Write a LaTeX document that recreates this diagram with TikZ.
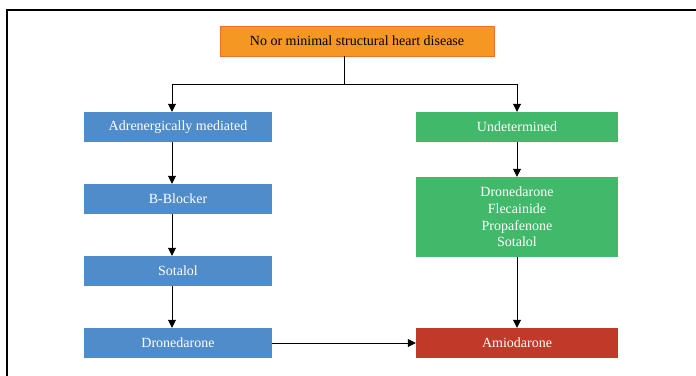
\documentclass[tikz,border=0pt]{standalone}
\usepackage{fontspec}
\setmainfont{Liberation Serif}
\usepackage{tikz}
\usetikzlibrary{arrows.meta, positioning}

\definecolor{boxorange}{RGB}{245,152,35}
\definecolor{lineorange}{RGB}{240,110,40}
\definecolor{boxblue}{RGB}{80,140,202}
\definecolor{boxgreen}{RGB}{66,184,106}
\definecolor{boxred}{RGB}{192,57,41}

\begin{document}
\begin{tikzpicture}[
  x=1pt, y=-1pt,
  base box/.style={rectangle, inner sep=0pt, minimum height=30pt,
    font=\fontsize{14}{16.7}\selectfont, text=white, align=center},
  top box/.style={base box, draw=lineorange, fill=boxorange, text=black, minimum width=274pt},
  blue box/.style={base box, fill=boxblue, minimum width=188pt},
  green box/.style={base box, fill=boxgreen, minimum width=202pt},
  red box/.style={base box, fill=boxred, minimum width=202pt},
  flow/.style={-{Triangle[length=8pt, width=8pt]}, thick}
]
  \useasboundingbox (0,0) rectangle (696,375);

  % frame
  \draw[line width=1.6pt] (7,376) -- (7,10) -- (697,10);

  % boxes
  \node[top box]   (top)  at (357,41)  {No or minimal structural heart disease};
  \node[blue box]  (adr)  at (178,127) {Adrenergically mediated};
  \node[blue box]  (bb)   at (178,199) {B-Blocker};
  \node[blue box]  (sot)  at (178,271) {Sotalol};
  \node[blue box]  (dro)  at (178,343) {Dronedarone};
  \node[green box] (und)  at (517,127) {Undetermined};
  \node[green box, minimum height=80pt] (drugs) at (517,217)
    {Dronedarone\\Flecainide\\Propafenone\\Sotalol};
  \node[red box]   (ami)  at (517,343) {Amiodarone};

  \coordinate (split) at (344,84);
  \coordinate (lcol)  at (172,0);

  % connectors
  \draw[thick] (top.south -| split) -- (split);
  \draw[flow] (split) -| (adr.north -| lcol);
  \draw[flow] (split) -| (und.north);
  \draw[flow] (adr.south -| lcol) -- (bb.north -| lcol);
  \draw[flow] (bb.south -| lcol) -- (sot.north -| lcol);
  \draw[flow] (sot.south -| lcol) -- (dro.north -| lcol);
  \draw[flow] (und) -- (drugs);
  \draw[flow] (drugs) -- (ami);
  \draw[flow] (dro) -- (ami);
\end{tikzpicture}
\end{document}
